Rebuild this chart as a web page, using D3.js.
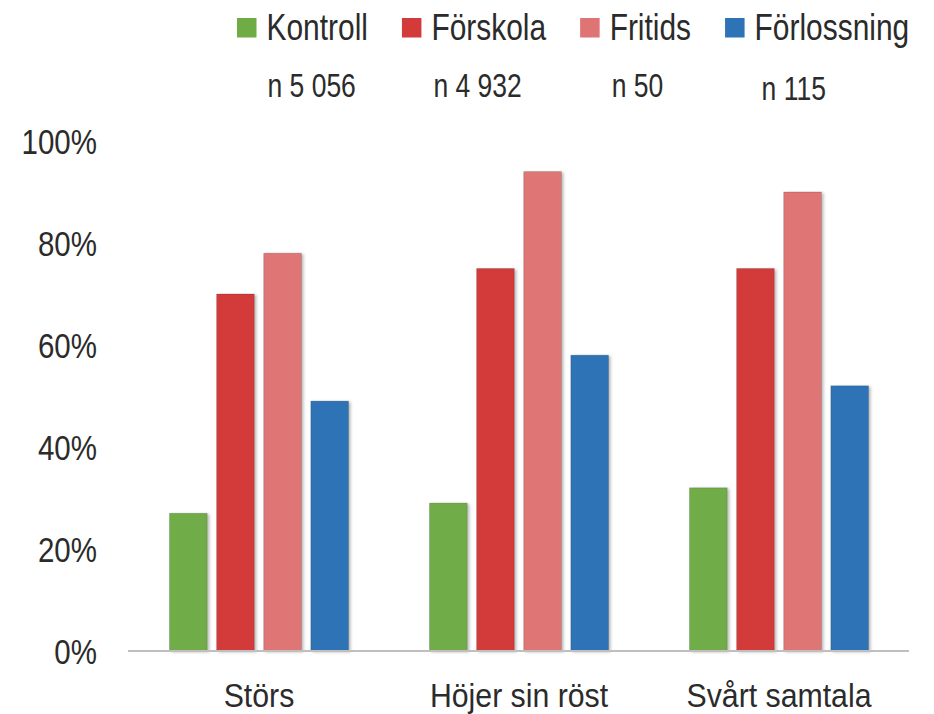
<!DOCTYPE html>
<html>
<head>
<meta charset="utf-8">
<script src="https://cdn.jsdelivr.net/npm/d3@7/dist/d3.min.js"></script>
<style>
  html, body { margin: 0; padding: 0; background: #fff; }
  svg { display: block; }
  text { font-family: "Liberation Sans", Arial, sans-serif; fill: #2b2b2b; }
</style>
</head>
<body>
<svg id="chart" width="934" height="714"></svg>
<script>
const categories = ["Störs", "Höjer sin röst", "Svårt samtala"];
const seriesNames = ["Kontroll", "Förskola", "Fritids", "Förlossning"];
const kontroll = [0.27, 0.29, 0.32];
const forskola = [0.70, 0.75, 0.75];
const fritids = [0.78, 0.94, 0.90];
const forlossning = [0.49, 0.58, 0.52];
const nLabels = ["n 5 056", "n 4 932", "n 50", "n 115"];
const yTicks = [0, 0.2, 0.4, 0.6, 0.8, 1.0];
const colors = ["#70ac46", "#d33a3a", "#df7474", "#2e73b5"];

const SX = 0.82; // horizontal condensing to mimic a narrow font

const seriesValues = [kontroll, forskola, fritids, forlossning];
const data = categories.map((c, i) => ({
  category: c,
  values: seriesNames.map((s, j) => ({ series: s, value: seriesValues[j][i] }))
}));

const svg = d3.select("#chart");

const defs = svg.append("defs");
const f = defs.append("filter").attr("id", "shadow")
  .attr("x", "-20%").attr("y", "-5%").attr("width", "150%").attr("height", "115%");
f.append("feDropShadow").attr("dx", 2).attr("dy", 1).attr("stdDeviation", 1.8)
  .attr("flood-color", "#000").attr("flood-opacity", 0.28);

const x0 = d3.scaleBand().domain(categories).range([129, 909]).paddingInner(0).paddingOuter(0);
const x1 = d3.scaleBand().domain(seriesNames).range([40.5, 219.5]).paddingInner(0.2).paddingOuter(0);
const y = d3.scaleLinear().domain([0, 1]).range([651, 141]);
const color = d3.scaleOrdinal().domain(seriesNames).range(colors);

// Y axis
const yAxis = svg.append("g").attr("transform", "translate(129,0)")
  .call(d3.axisLeft(y).tickValues(yTicks).tickFormat(d3.format(".0%")).tickSize(0).tickPadding(32));
yAxis.select(".domain").remove();
yAxis.selectAll("text")
  .style("font-family", '"Liberation Sans", Arial, sans-serif')
  .attr("font-size", 36).attr("fill", "#2b2b2b").attr("dy", "0.36em")
  .attr("x", -32 / SX).attr("transform", `scale(${SX},1)`);

// Bars
const groups = svg.append("g").selectAll("g").data(data).join("g")
  .attr("transform", d => `translate(${x0(d.category)},0)`);
groups.selectAll("rect").data(d => d.values).join("rect")
  .attr("x", d => x1(d.series))
  .attr("width", x1.bandwidth())
  .attr("y", d => y(d.value))
  .attr("height", d => y(0) - y(d.value))
  .attr("fill", d => color(d.series))
  .attr("stroke", "rgba(0,0,0,0.18)")
  .attr("stroke-width", 0.8)
  .attr("filter", "url(#shadow)");

// X axis
const xAxis = svg.append("g").attr("transform", "translate(0,651)")
  .call(d3.axisBottom(x0).tickSize(0).tickSizeOuter(0).tickPadding(0));
xAxis.select(".domain").attr("stroke", "#bfbfbf").attr("stroke-width", 2)
  .attr("d", "M128,0H909");
xAxis.selectAll("text")
  .style("font-family", '"Liberation Sans", Arial, sans-serif')
  .attr("font-size", 34).attr("fill", "#2b2b2b").attr("dy", 0).attr("y", 56)
  .attr("transform", "scale(0.89,1)");

// Legend
const legend = svg.append("g");
let lx = 237;
const legendTextX = [];
seriesNames.forEach((s, i) => {
  legend.append("rect").attr("x", lx).attr("y", 18).attr("width", 19.5).attr("height", 19.5)
    .attr("fill", color(s));
  const tx = lx + 29.5;
  const t = legend.append("text")
    .attr("transform", `translate(${tx},39.5) scale(${SX},1)`)
    .attr("font-size", 36.5).text(s);
  legendTextX.push(tx);
  lx = tx + t.node().getComputedTextLength() * SX + 34;
});

// n labels
const nOffsets = [1, 2, 2, 7];
const nDy = [0, 0, 0, 3];
svg.append("g").selectAll("text").data(nLabels).join("text")
  .attr("transform", (d, i) => `translate(${legendTextX[i] + nOffsets[i]},${97 + nDy[i]}) scale(${SX * 0.95},1)`)
  .attr("font-size", 34)
  .text(d => d);
</script>
</body>
</html>
